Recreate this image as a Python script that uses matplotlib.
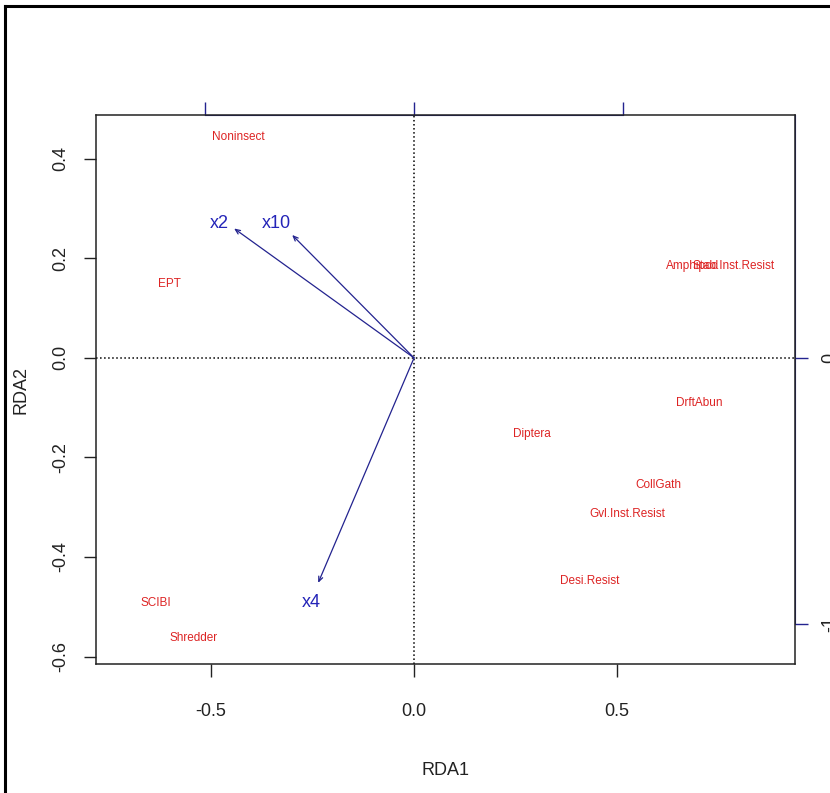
import numpy as np
import matplotlib
matplotlib.use('Agg')
import matplotlib.pyplot as plt
from matplotlib.lines import Line2D

plt.rcParams['font.family'] = ['Liberation Sans Narrow', 'Liberation Sans', 'DejaVu Sans']

# species scores (red labels)
species = ['Noninsect', 'EPT', 'Amphipod', 'Stab.Inst.Resist', 'DrftAbun', 'Diptera',
           'CollGath', 'Gvl.Inst.Resist', 'Desi.Resist', 'SCIBI', 'Shredder']
sp_x = [-0.433, -0.601, 0.685, 0.786, 0.702, 0.291, 0.601, 0.525, 0.433, -0.635, -0.542]
sp_y = [0.444, 0.149, 0.185, 0.185, -0.090, -0.153, -0.255, -0.314, -0.448, -0.492, -0.563]

# biplot arrows (blue) and where their labels sit
env = ['x2', 'x10', 'x4']
env_x = [-0.443, -0.300, -0.236]
env_y = [0.260, 0.247, -0.452]
env_lab_x = [-0.479, -0.340, -0.254]
env_lab_y = [0.270, 0.270, -0.492]

# secondary axis scale (top / right)
top_scale = 0.515
right_scale = 0.535

navy = '#23238f'
red = '#dd2424'

fig = plt.figure(figsize=(8.3, 7.93), dpi=100)
ax = fig.add_axes([96/830, 1 - 664/793, 699/830, 549/793])

ax.set_xlim(-0.783, 0.938)
ax.set_ylim(-0.615, 0.488)

ax.axhline(0, color='black', ls=':', lw=1.1)
ax.axvline(0, color='black', ls=':', lw=1.1)

for lab, x, y in zip(species, sp_x, sp_y):
    ax.text(x, y, lab, color=red, fontsize=8.5, ha='center', va='center')

for lab, x, y, lx, ly in zip(env, env_x, env_y, env_lab_x, env_lab_y):
    ax.annotate('', xy=(x, y), xytext=(0, 0),
                arrowprops=dict(arrowstyle='->,head_length=0.35,head_width=0.15',
                                color=navy, lw=0.9, shrinkA=0, shrinkB=0))
    ax.text(lx, ly, lab, color='#2424b8', fontsize=13, ha='center', va='center')

ax.set_xticks([-0.5, 0.0, 0.5])
ax.set_xticklabels(['-0.5', '0.0', '0.5'])
ax.set_yticks([-0.6, -0.4, -0.2, 0.0, 0.2, 0.4])
ax.set_yticklabels(['-0.6', '-0.4', '-0.2', '0.0', '0.2', '0.4'], rotation=90, va='center')
ax.tick_params(axis='both', direction='out', length=9, width=1, labelsize=13, colors='#222222')
ax.tick_params(axis='x', pad=19)
ax.tick_params(axis='y', pad=10)
for s in ax.spines.values():
    s.set_color('#222222')
    s.set_linewidth(1.1)

ax.set_xlabel('RDA1', fontsize=13, labelpad=30, color='#222222')
ax.set_ylabel('RDA2', fontsize=13, labelpad=17, color='#222222')

# top axis
secx = ax.secondary_xaxis('top', functions=(lambda v: v / top_scale, lambda v: v * top_scale))
secx.set_xticks([-1, 0, 1])
secx.set_xticklabels(['', '', ''])
secx.tick_params(direction='out', length=9.5, width=1, colors=navy)
secx.spines['top'].set_color(navy)
secx.spines['top'].set_bounds(-1, 1)

# right axis
secy = ax.secondary_yaxis('right', functions=(lambda v: v / right_scale, lambda v: v * right_scale))
secy.set_yticks([-1, 0])
secy.set_yticklabels(['-1', '0'], rotation=90, va='center')
secy.tick_params(direction='out', length=9, width=1, colors=navy, labelcolor='#222222',
                 labelsize=13, pad=10)
secy.spines['right'].set_color(navy)
secy.spines['right'].set_bounds(-1, 0.488 / right_scale)

# outer border (left and top visible)
fig.add_artist(Line2D([5/830, 5/830], [0, 1 - 6/793], color='black', lw=2.2,
                      transform=fig.transFigure))
fig.add_artist(Line2D([5/830, 1], [1 - 6/793, 1 - 6/793], color='black', lw=2.2,
                      transform=fig.transFigure))

fig.savefig('out.png', dpi=100)
